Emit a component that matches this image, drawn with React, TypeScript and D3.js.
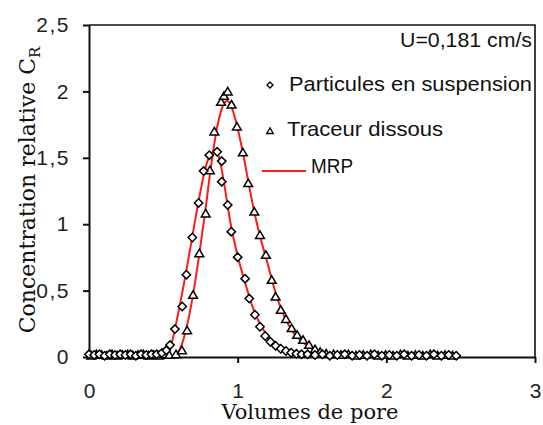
import { useEffect, useRef } from "react";
import * as d3 from "d3";

// Particules en suspension (diamonds)
const partV = [
  0.0, 0.035, 0.07, 0.105, 0.14, 0.175, 0.21, 0.245, 0.28, 0.315, 0.35, 0.385, 0.42, 0.455, 0.49, 0.52,
  0.545, 0.578, 0.627, 0.655, 0.695, 0.737, 0.771, 0.809, 0.862, 0.893, 0.893, 0.933, 0.957, 1.0, 1.05,
  1.078, 1.116, 1.15, 1.185, 1.22, 1.255, 1.29, 1.325, 1.36, 1.395, 1.43,
  1.47, 1.52, 1.57, 1.62, 1.67, 1.72, 1.77, 1.82, 1.87, 1.92, 1.97, 2.02, 2.07, 2.12, 2.17, 2.22, 2.27,
  2.32, 2.37, 2.42, 2.47,
];
const partC = [
  0.02, 0.015, 0.02, 0.01, 0.02, 0.015, 0.02, 0.015, 0.02, 0.01, 0.02, 0.015, 0.02, 0.02, 0.03, 0.05,
  0.09, 0.21, 0.38, 0.62, 0.9, 1.16, 1.4, 1.52, 1.545, 1.475, 1.32, 1.145, 0.944, 0.752, 0.59,
  0.44, 0.318, 0.228, 0.158, 0.115, 0.085, 0.062, 0.045, 0.032, 0.024, 0.02,
  0.02, 0.015, 0.02, 0.01, 0.015, 0.02, 0.01, 0.015, 0.01, 0.02, 0.01, 0.015, 0.01, 0.02, 0.01, 0.015, 0.01,
  0.02, 0.01, 0.015, 0.01,
];

// Traceur dissous (triangles)
const tracV = [
  0.015, 0.05, 0.085, 0.12, 0.155, 0.19, 0.225, 0.26, 0.295, 0.33, 0.365, 0.4, 0.435, 0.47, 0.505, 0.54,
  0.585, 0.625, 0.66, 0.7, 0.742, 0.785, 0.813, 0.843, 0.888, 0.908, 0.933, 0.959, 0.995, 1.035, 1.071,
  1.112, 1.15, 1.19, 1.229, 1.255, 1.29, 1.325, 1.363, 1.4, 1.44, 1.48, 1.52, 1.555,
  1.595, 1.645, 1.695, 1.745, 1.795, 1.845, 1.895, 1.945, 1.995, 2.045, 2.095, 2.145, 2.195, 2.245, 2.295,
  2.345, 2.395, 2.445,
];
const tracC = [
  0.01, 0.02, 0.015, 0.01, 0.02, 0.01, 0.015, 0.02, 0.01, 0.015, 0.02, 0.01, 0.015, 0.01, 0.02, 0.015,
  0.02, 0.05, 0.2, 0.467, 0.78, 1.08, 1.405, 1.697, 1.92, 1.965, 1.998, 1.9, 1.734, 1.54, 1.308,
  1.094, 0.918, 0.768, 0.58, 0.454, 0.354, 0.285, 0.216, 0.166, 0.128, 0.09, 0.058, 0.038,
  0.025, 0.02, 0.015, 0.02, 0.01, 0.015, 0.02, 0.01, 0.015, 0.01, 0.02, 0.01, 0.015, 0.01, 0.02,
  0.01, 0.015, 0.01,
];

// MRP fitted curves
const mrpPartV = [0.53, 0.56, 0.6, 0.65, 0.7, 0.75, 0.79, 0.83, 0.86, 0.88, 0.91, 0.95, 1.0, 1.05, 1.1, 1.15, 1.2, 1.25, 1.3, 1.35, 1.4, 1.45, 1.5];
const mrpPartC = [0.0, 0.12, 0.33, 0.62, 0.94, 1.25, 1.45, 1.54, 1.54, 1.48, 1.3, 1.02, 0.76, 0.56, 0.38, 0.25, 0.16, 0.1, 0.06, 0.035, 0.02, 0.01, 0.005];
const mrpTracV = [0.575, 0.62, 0.66, 0.7, 0.74, 0.78, 0.82, 0.86, 0.9, 0.93, 0.96, 1.0, 1.04, 1.08, 1.12, 1.16, 1.2, 1.24, 1.28, 1.32, 1.36, 1.4, 1.44, 1.48, 1.52, 1.56, 1.62, 1.7];
const mrpTracC = [0.0, 0.08, 0.24, 0.47, 0.76, 1.08, 1.43, 1.72, 1.89, 1.93, 1.88, 1.72, 1.51, 1.27, 1.05, 0.87, 0.71, 0.54, 0.4, 0.29, 0.21, 0.15, 0.11, 0.075, 0.05, 0.03, 0.015, 0.005];

const xTicks = [0, 1, 2, 3];
const yTicks = [0, 0.5, 1, 1.5, 2, 2.5];

export default function App() {
  const ref = useRef<SVGSVGElement>(null);

  useEffect(() => {
    if (!ref.current) return;
    const svg = d3.select(ref.current);
    svg.selectAll("*").remove();

    const left = 89, right = 535, top = 25, bottom = 357;
    const x = d3.scaleLinear().domain([0, 3]).range([left, right]);
    const y = d3.scaleLinear().domain([0, 2.5]).range([bottom, top]);
    const fmt = (d: number) => String(d).replace(".", ",");
    const sans = "'Liberation Sans', Arial, sans-serif";
    const serif = "'DejaVu Serif', serif";

    svg.append("rect").attr("width", 543).attr("height", 425).attr("fill", "#fff");

    // frame (top + right)
    svg.append("path")
      .attr("d", `M${left},${top}H${right}V${bottom}`)
      .attr("fill", "none")
      .attr("stroke", "#111")
      .attr("stroke-width", 1.6);

    // y axis
    const ya = svg.append("g")
      .attr("transform", `translate(${left},0)`)
      .call(d3.axisLeft(y).tickValues(yTicks).tickSize(6).tickSizeOuter(0).tickPadding(13).tickFormat((d) => fmt(d as number)));
    ya.select(".domain").attr("stroke", "#111").attr("stroke-width", 2);
    ya.selectAll(".tick line").attr("stroke", "#111").attr("stroke-width", 2);
    ya.selectAll(".tick text").style("font-family", sans).style("font-size", "21px")
      .style("letter-spacing", "1.5px").attr("fill", "#222");

    // x axis
    const xa = svg.append("g")
      .attr("transform", `translate(0,${bottom})`)
      .call(d3.axisBottom(x).tickValues(xTicks).tickSize(6).tickSizeOuter(0).tickPadding(20).tickFormat((d) => fmt(d as number)));
    xa.select(".domain").attr("stroke", "#111").attr("stroke-width", 2);
    xa.selectAll(".tick line").attr("stroke", "#111").attr("stroke-width", 2)
      .filter((d) => d === 0).remove();
    xa.selectAll(".tick text").style("font-family", sans).style("font-size", "21px").attr("fill", "#222");

    // MRP curves
    const line = d3.line<[number, number]>()
      .x((d) => x(d[0]))
      .y((d) => y(d[1]))
      .curve(d3.curveMonotoneX);
    [[mrpPartV, mrpPartC], [mrpTracV, mrpTracC]].forEach(([vs, cs]) => {
      svg.append("path")
        .datum(vs.map((v, i) => [v, cs[i]] as [number, number]))
        .attr("d", line)
        .attr("fill", "none")
        .attr("stroke", "#ff1a1a")
        .attr("stroke-width", 2);
    });

    // markers
    const diamond = (r: number) => `M0,${-r}L${r},0L0,${r}L${-r},0Z`;
    const triangle = (s: number) => `M0,${-s * 0.95}L${s},${s * 0.75}L${-s},${s * 0.75}Z`;

    svg.append("g").selectAll("path")
      .data(tracV.map((v, i) => [v, tracC[i]]))
      .enter().append("path")
      .attr("transform", (d) => `translate(${x(d[0])},${y(d[1])})`)
      .attr("d", triangle(4.4))
      .attr("fill", "#fff")
      .attr("stroke", "#000")
      .attr("stroke-width", 1.5);

    svg.append("g").selectAll("path")
      .data(partV.map((v, i) => [v, partC[i]]))
      .enter().append("path")
      .attr("transform", (d) => `translate(${x(d[0])},${y(d[1])})`)
      .attr("d", diamond(4.2))
      .attr("fill", "#fff")
      .attr("stroke", "#000")
      .attr("stroke-width", 1.5);

    // legend
    const lg = svg.append("g").style("font-family", sans).style("font-size", "21px").attr("fill", "#111");
    lg.append("text").attr("x", 400).attr("y", 47).attr("textLength", 132).attr("lengthAdjust", "spacingAndGlyphs").text("U=0,181 cm/s");
    lg.append("path").attr("transform", "translate(270,85)").attr("d", diamond(3)).attr("fill", "#fff").attr("stroke", "#000").attr("stroke-width", 1.3);
    lg.append("text").attr("x", 289).attr("y", 91).attr("textLength", 243).attr("lengthAdjust", "spacingAndGlyphs").text("Particules en suspension");
    lg.append("path").attr("transform", "translate(270,131)").attr("d", triangle(3.3)).attr("fill", "#fff").attr("stroke", "#000").attr("stroke-width", 1.3);
    lg.append("text").attr("x", 287).attr("y", 136).attr("textLength", 156).attr("lengthAdjust", "spacingAndGlyphs").text("Traceur dissous");
    lg.append("line").attr("x1", 262).attr("x2", 306).attr("y1", 171).attr("y2", 171).attr("stroke", "#ff1a1a").attr("stroke-width", 2);
    lg.append("text").attr("x", 311).attr("y", 173).attr("textLength", 42).attr("lengthAdjust", "spacingAndGlyphs").text("MRP");

    // axis titles
    svg.append("text")
      .attr("x", 310).attr("y", 419)
      .attr("text-anchor", "middle")
      .style("font-family", serif).style("font-size", "21px").attr("fill", "#111")
      .text("Volumes de pore");

    const yt = svg.append("text")
      .attr("transform", "translate(35,190) rotate(-90)")
      .attr("text-anchor", "middle")
      .style("font-family", serif).style("font-size", "22px").attr("fill", "#111");
    yt.append("tspan").text("Concentration relative C");
    yt.append("tspan").attr("dy", 5).style("font-size", "15px").text("R");
  }, []);

  return (
    <svg
      ref={ref}
      width={543}
      height={425}
      style={{ position: "absolute", left: 0, top: 0, display: "block" }}
    />
  );
}
